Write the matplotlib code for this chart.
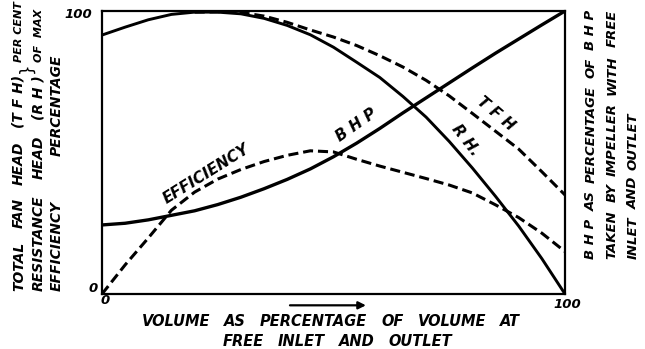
import matplotlib
matplotlib.use("Agg")
import matplotlib.pyplot as plt

plt.rcParams["font.family"] = ["DejaVu Sans"]
plt.rcParams["font.weight"] = "bold"
plt.rcParams["font.style"] = "italic"

# Fan characteristic curves, all as percentages
volume = [0, 5, 10, 15, 20, 25, 30, 35, 40, 45, 50,
          55, 60, 65, 70, 75, 80, 85, 90, 95, 100]
resistance_head = [91.5, 94.3, 96.9, 98.8, 99.6, 99.6, 99.0, 97.4, 94.9, 91.6, 87.2,
                   81.9, 76.5, 69.8, 62.5, 53.9, 44.5, 34.5, 24.0, 12.5, 0.0]
efficiency = [0.0, 10.3, 19.8, 29.6, 36.0, 40.6, 44.0, 46.8, 49.0, 50.6, 50.2,
              47.6, 45.2, 43.0, 40.8, 38.5, 35.7, 31.5, 27.0, 21.5, 15.0]
bhp = [24.4, 25.0, 26.2, 27.8, 29.4, 31.6, 34.2, 37.2, 40.5, 44.2, 48.5,
       53.3, 58.5, 64.0, 69.3, 74.6, 79.9, 85.1, 90.1, 95.1, 100.0]
tfh_volume = [20, 25, 30, 35, 40, 45, 50, 55, 60, 65, 70, 75, 80, 85, 90, 95, 100]
total_fan_head = [99.6, 99.7, 99.5, 98.2, 96.0, 93.3, 90.8, 87.8, 84.2,
                  80.2, 75.5, 70.0, 63.8, 57.5, 51.2, 43.2, 35.0]

W, H = 645, 349
fig = plt.figure(figsize=(W / 100, H / 100), dpi=100)
ax = fig.add_axes([102 / W, 1 - 294 / H, 463 / W, 283 / H])
ax.set_xlim(0, 100)
ax.set_ylim(0, 100)
for s in ax.spines.values():
    s.set_linewidth(1.6)
ax.set_xticks([])
ax.set_yticks([])

dash = (0, (3.3, 1.6))
ax.plot(volume, resistance_head, color="black", lw=2.1, solid_capstyle="butt")
ax.plot(volume, bhp, color="black", lw=2.4, solid_capstyle="butt")
ax.plot(tfh_volume, total_fan_head, color="black", lw=2.2, ls=dash)
ax.plot(volume, efficiency, color="black", lw=2.2, ls=dash)

# curve names written along the lines
lab = dict(fontsize=11, ha="center", va="center", rotation_mode="anchor")
ax.text(22.6, 42.3, "EFFICIENCY", rotation=32, **lab)
ax.text(54.9, 59.5, "B H P", rotation=35, **lab)
ax.text(85.1, 63.6, "T F H", rotation=-40, **lab)
ax.text(78.6, 54.4, "R H.", rotation=-52, **lab)

# axis end values
tick = dict(fontsize=9.5, ha="center", va="center", textcoords="offset pixels",
            annotation_clip=False)
ax.annotate("100", xy=(0, 100), xytext=(-24, -3), **tick)
ax.annotate("0", xy=(0, 0), xytext=(-9, 5), **tick)
ax.annotate("0", xy=(0, 0), xytext=(3, -7), **tick)
ax.annotate("100", xy=(100, 0), xytext=(2, -10), **tick)

# direction of increasing volume
ax.annotate("", xy=(57.0, -0.04), xytext=(40.6, -0.04),
            xycoords=("data", "axes fraction"), textcoords=("data", "axes fraction"),
            arrowprops=dict(arrowstyle="-|>", lw=1.6, color="black", mutation_scale=11,
                            shrinkA=0, shrinkB=0),
            annotation_clip=False)

renderer = fig.canvas.get_renderer()


def spread(words, fixed, start, end, fontsize, vertical=False):
    """Lay out words with even gaps between pixel positions start and end."""
    widths = []
    for w in words:
        t = fig.text(0, 0, w, fontsize=fontsize)
        widths.append(t.get_window_extent(renderer).width)
        t.remove()
    n = max(len(words) - 1, 1)
    gap = max((abs(end - start) - sum(widths)) / n, 4)
    pos = start
    for w, wd in zip(words, widths):
        if vertical:
            fig.text(fixed / W, 1 - pos / H, w, fontsize=fontsize, rotation=90,
                     rotation_mode="anchor", ha="left", va="center")
            pos -= wd + gap
        else:
            fig.text(pos / W, 1 - fixed / H, w, fontsize=fontsize,
                     ha="left", va="center")
            pos += wd + gap


# horizontal axis description
spread(["VOLUME", "AS", "PERCENTAGE", "OF", "VOLUME", "AT"], 322, 142, 520, 10.5)
spread(["FREE", "INLET", "AND", "OUTLET"], 341, 223, 452, 10.5)

# left-hand axis description
ls_ = 10
spread(["TOTAL", "FAN", "HEAD", "(T F H)"], 19, 291, 75, ls_, vertical=True)
spread(["RESISTANCE", "HEAD", "(R H )"], 38.5, 291, 75, ls_, vertical=True)
spread(["EFFICIENCY", "PERCENTAGE"], 57, 291, 55, ls_, vertical=True)
fig.text(19 / W, 1 - 62 / H, "PER CENT", fontsize=8, rotation=90,
         rotation_mode="anchor", ha="left", va="center")
fig.text(38.5 / W, 1 - 62 / H, "OF  MAX", fontsize=8, rotation=90,
         rotation_mode="anchor", ha="left", va="center")
fig.text(27 / W, 1 - 68 / H, "}", fontsize=12, rotation=90, ha="center", va="center",
         fontweight="normal", fontstyle="normal")

# right-hand axis description
rs = 9.5
spread(["B H P", "AS", "PERCENTAGE", "OF", "B H P"], 591, 259, 10, rs, vertical=True)
spread(["TAKEN", "BY", "IMPELLER", "WITH", "FREE"], 612, 259, 10, rs, vertical=True)
spread(["INLET", "AND", "OUTLET"], 633, 259, 112, rs, vertical=True)

fig.savefig("out.png", dpi=100, facecolor="white")
